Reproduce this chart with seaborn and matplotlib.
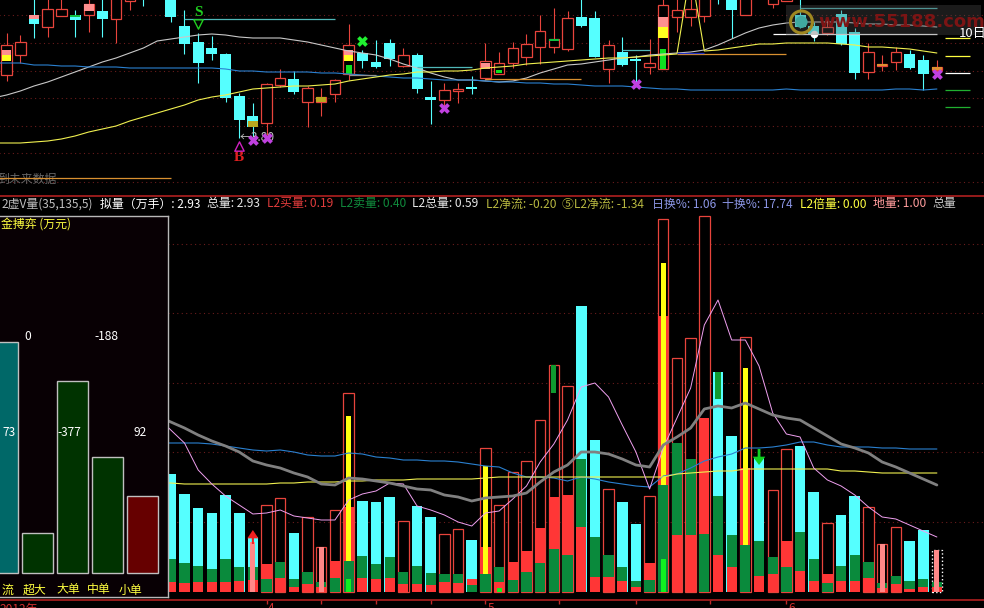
import matplotlib
matplotlib.use("Agg")
import matplotlib.pyplot as plt
from matplotlib.patches import Ellipse, Rectangle
import seaborn as sns

# candles, oldest first. there is no price scale on the picture so values are chart units
body_high = [155, 158, 185, 191, 191, 185, 196, 189, 205, 205, 210, 215,
             205, 174, 158, 152, 146, 104, 84, 116, 122, 121, 112, 103, 120, 155, 147, 138, 157, 145,
             145, 103, 110, 111, 113, 139, 137, 152, 156, 169, 161, 182, 183, 182, 155, 148, 141, 137,
             195, 190, 191, 205, 210, 205, 205, 215, 205, 205, 185, 174, 173, 186, 168, 148, 136, 148,
             146, 140, 133]
body_low = [125, 145, 176, 173, 184, 180, 185, 181, 181, 199, 203, 210,
            183, 156, 137, 146, 102, 80, 73, 77, 115, 108, 98, 98, 106, 126, 139, 133, 141, 134,
            111, 100, 100, 109, 111, 122, 126, 137, 143, 153, 153, 151, 174, 143, 131, 135, 139, 133,
            131, 183, 183, 184, 205, 190, 185, 210, 196, 199, 173, 165, 167, 156, 127, 128, 134, 138,
            132, 126, 130]
wick_high = [167, 165, 205, 205, 205, 190, 205, 205, 205, 205, 210, 215,
             205, 190, 167, 164, 147, 107, 97, 117, 131, 129, 114, 112, 121, 176, 150, 160, 161, 152,
             147, 119, 117, 117, 124, 157, 148, 158, 166, 185, 192, 189, 205, 189, 160, 163, 145, 161,
             205, 205, 205, 205, 210, 205, 205, 215, 205, 205, 205, 178, 182, 190, 172, 157, 145, 153,
             150, 145, 140]
wick_low = [119, 137, 162, 163, 184, 163, 168, 163, 157, 190, 194, 210,
            178, 146, 117, 140, 98, 62, 63, 65, 113, 106, 73, 84, 98, 120, 132, 132, 134, 133,
            107, 76, 94, 97, 106, 120, 126, 132, 135, 136, 147, 149, 173, 143, 117, 134, 118, 126,
            131, 168, 174, 178, 196, 162, 185, 210, 192, 199, 172, 159, 165, 155, 121, 121, 129, 130,
            131, 110, 126]
candle_kind = ("rrcrrcrcrrcc" + "ccccccc" + "rr" + "c" + "rrrr" + "ccc" + "r" + "cc" + "rr" + "c" + "rrrrrrr"
               + "cc" + "r" + "cc" + "rrrrr" + "cc" + "r" + "c" + "rr" + "cc" + "r" + "cc" + "rrr" + "cc" + "r")

# moving averages start one day before the first candle, it is just off the left edge
ma_gray = [102, 105, 109, 114, 118, 123, 128, 133, 138, 142, 147, 152, 159, 161, 163, 165, 166, 165, 163, 162, 162,
           162, 160, 158, 155, 152, 149, 147, 145, 141, 136, 132, 127, 123, 120, 120, 119,
           118, 119, 122, 127, 131, 135, 136, 138, 140, 142, 143, 145, 146, 147, 148, 150, 155, 161, 167, 172,
           175, 177, 178, 178, 178, 178, 177, 176, 176, 175, 175, 174, 173]
ma_yellow = [57, 57, 57, 58, 59, 61, 64, 68, 71, 74, 79, 83, 87, 91, 95, 100, 103, 105, 108, 111, 112,
             113, 114, 114, 115, 116, 119, 121, 123, 125, 126, 128, 128, 129, 129, 130, 132,
             133, 134, 136, 137, 138, 139, 140, 141, 142, 142, 143, 144, 145, 146, 230, 149, 150, 152, 154, 156,
             156, 157, 157, 157, 157, 156, 155, 153, 153, 152, 151, 149, 147]
ma_blue = [137, 137, 137, 135, 135, 134, 134, 133, 133, 133, 132, 132, 132, 132, 132, 132, 132, 131, 129, 129, 128,
           128, 128, 128, 127, 127, 126, 125, 124, 123, 122, 122, 121, 120, 120, 120, 119,
           118, 118, 117, 117, 116, 116, 115, 114, 114, 114, 113, 112, 111, 111, 110, 110, 110, 110, 110, 110,
           110, 111, 110, 110, 110, 110, 110, 110, 110, 111, 111, 110, 111]

# volume pane, only the last 57 days are visible
vol_first_day = 12
volume = [118, 98, 84, 79, 97, 79, 55, 87, 94, 59, 75, 45, 82, 199, 91, 90, 95, 71, 86, 75, 58, 63, 52, 144,
          87, 120, 131, 172, 227, 206, 286, 152, 103, 90, 68, 96, 373, 234, 254, 376, 220, 156, 255, 135,
          102, 143, 146, 100, 69, 77, 96, 85, 48, 65, 51, 62, 42]
seg_low = [10, 9, 10, 10, 10, 11, 12, 13, 14, 5, 8, 5, 14, 31, 14, 13, 14, 8, 8, 7, 10, 9, 7, 18,
           10, 12, 20, 29, 43, 37, 65, 15, 15, 11, 5, 12, 107, 57, 57, 58, 37, 25, 47, 16,
           18, 25, 21, 11, 9, 11, 11, 14, 4, 8, 3, 5, 5]
seg_high = [33, 29, 26, 23, 33, 25, 25, 28, 30, 13, 20, 10, 31, 85, 36, 28, 35, 20, 26, 19, 18, 18, 13, 45,
            25, 30, 41, 64, 95, 97, 133, 55, 37, 25, 11, 29, 276, 149, 133, 174, 96, 57, 124, 51,
            35, 51, 60, 33, 18, 26, 37, 30, 9, 16, 11, 13, 10]
seg_low_kind = ("rrrrrrr" + "g" + "rrrr" + "gg" + "rrrrrrrr" + "gg" + "r" + "ggggg" + "rrrrr" + "gg" + "rr" + "g"
                + "rr" + "g" + "rr" + "g" + "rr" + "g" + "rrrrrrrr")

# same here, one extra day hidden behind the left panel
vma_gray = [176, 170, 164, 157, 151, 146, 140, 131, 127, 124, 119, 115, 108, 107, 114, 113, 111, 109, 106, 103, 102,
            97, 95, 91, 94, 95, 96, 99, 110, 120, 127, 140, 140, 138, 133, 127, 125, 147, 155, 164, 183, 186,
            184, 189, 183, 177, 174, 172, 164, 156, 148, 144, 139, 130, 125, 119, 113, 107]
vma_pink = [175, 162, 149, 122, 108, 96, 87, 78, 79, 82, 76, 74, 72, 72, 92, 98, 101, 109, 108, 86, 82, 77, 70, 66, 79,
            81, 93, 106, 130, 148, 172, 205, 209, 195, 167, 140, 103, 144, 174, 204, 267, 292,
            252, 252, 226, 179, 158, 155, 124, 112, 106, 97, 85, 75, 73, 67, 61, 55]
vma_blue = [149, 149, 149, 149, 148, 146, 144, 142, 141, 142, 140, 137, 136, 136, 139, 138, 135, 134, 132, 132, 131,
            131, 130, 128, 126, 125, 119, 115, 115, 114, 111, 115, 113, 110, 108, 106, 105, 116, 118, 124, 131,
            135, 138, 144, 144, 145, 147, 150, 150, 147, 145, 145, 145, 144, 144, 143, 143, 143]
vma_yellow = [109, 109, 108, 108, 108, 108, 108, 108, 108, 109, 109, 110, 110, 110, 111, 111, 112, 112, 112, 113, 113,
              113, 113, 113, 114, 115, 115, 115, 115, 115, 115, 115, 115, 115, 115, 115, 115, 115, 118, 119, 120,
              121, 121, 123, 123, 123, 123, 123, 123, 123, 121, 121, 120, 119, 119, 119, 119, 119]

# small coloured blocks sitting inside a candle: day, low, high, colour, narrow?
candle_inlays = [(0, 145, 150, "#ff9090", False), (0, 139, 145, "#ffff20", False),
                 (2, 181, 185, "#ff9090", False), (5, 183, 185, "#10c040", False),
                 (6, 189, 196, "#ff9090", False), (18, 73, 79, "#b8a820", False),
                 (23, 98, 103, "#b8a820", False), (25, 145, 150, "#ff9090", False),
                 (25, 139, 145, "#ffff20", False), (25, 126, 135, "#10e020", True),
                 (35, 131, 137, "#ff9090", False), (36, 127, 130, "#10e020", True),
                 (40, 159, 161, "#10c040", False), (48, 173, 183, "#ff9090", False),
                 (48, 162, 173, "#ffff20", False), (48, 131, 151, "#10e020", True),
                 (64, 134, 136, "#e09030", False), (68, 130, 133, "#e09030", False)]
# narrow blocks in the volume pane
vol_yellow = [(13, 31, 176), (23, 18, 126), (36, 107, 329), (42, 47, 224)]
vol_bright = [(13, 0, 13), (24, 0, 4), (36, 0, 33)]
vol_green = [(28, 199, 227), (40, 193, 220)]
vol_pink = [(6, 0, 50), (11, 0, 45), (52, 0, 48), (56, 0, 42)]

# day_from, day_to, level, colour
top_levels = [(13, 24, 181.5, "#50b8b8"), (58, 68, 192, "#50b8b8"), (30, 34, 133, "#50b8b8"),
              (45, 47, 150, "#50b8b8"), (-1, 12, 22, "#d89030"), (35, 42, 121, "#d89030"),
              (49, 57, 146, "#d89030"), (56, 68, 166, "#ffffff"), (25, 27, 125, "#909090"),
              (49, 51, 147, "#2030c0"), (68.6, 70.4, 162, "#ffff40"), (68.6, 70.4, 144, "#ffff40"),
              (68.6, 70.4, 127, "#ffffff"), (68.6, 70.4, 110, "#20b030"), (68.6, 70.4, 93, "#20b030")]
top_grid = [185, 157, 129, 102, 74, 47, 18]
vol_grid = [348, 279, 209, 140, 70]
month_ticks = [19, 23, 27, 31, 35, 40.4, 46, 51.4, 57]
purple_days = [18, 19, 32, 46, 68]
purple_vals = [60, 62, 92, 116, 126]

panel_names = ["主流", "超大", "大单", "中单", "小单"]
panel_heights = [231, 40, 192, 116, 77]
panel_colors = ["#006868", "#003300", "#003300", "#003300", "#660000"]

legend_items = [(2, "2虚V量(35,135,5)", "#c0c0c0"), (100, "拟量（万手）: 2.93", "#ffffff"),
                (207, "总量: 2.93", "#e8e8e8"), (267, "L2买量: 0.19", "#e03c3c"),
                (340, "L2卖量: 0.40", "#108a3c"), (412, "L2总量: 0.59", "#e8e8e8"),
                (486, "L2净流: -0.20", "#b8b840"), (562, "⑤L2净流: -1.34", "#b8b840"),
                (652, "日换%: 1.06", "#8c96e6"), (722, "十换%: 17.74", "#8c96e6"),
                (800, "L2倍量: 0.00", "#ffff40"), (873, "地量: 1.00", "#ff9c9c"),
                (932, "总量", "#c8c8c8")]

RED = "#e8443c"
CYAN = "#55ffff"
VRED = "#ff3636"
VGREEN = "#0a8a3c"
W, H = 984, 608
all_days = list(range(len(body_high)))
ma_days = [-1] + all_days

sns.set_theme(style="dark", rc={"figure.facecolor": "black", "axes.facecolor": "black", "axes.grid": False})
plt.rcParams["font.family"] = ["Noto Sans CJK SC", "DejaVu Sans"]

fig = plt.figure(figsize=(W / 100, H / 100), dpi=100)
ax_top = fig.add_axes([0, 1 - 196 / H, 1, 196 / H])
ax_vol = fig.add_axes([0, 8 / H, 1, 404 / H])
ax_panel = fig.add_axes([0, 1 - 597 / H, 167.5 / W, 381 / H], zorder=5)


def bars(ax, days, heights, color, width=0.78, bottom=None, **kws):
    # order keeps the day positions the same whatever subset gets drawn
    extra = dict(kws)
    if bottom is not None:
        extra["bottom"] = bottom
    sns.barplot(x=days, y=heights, order=all_days, color=color, width=width,
                saturation=1, errorbar=None, ax=ax, **extra)


def text_px(x, y, s, color, size=8.6, **kws):
    fig.text(x / W, 1 - y / H, s, color=color, fontsize=size, va="center", zorder=10, **kws)


# top pane
ax_top.hlines(top_grid, -1, 72, color="#6a1c1c", lw=0.8, ls=(0, (1, 3)), zorder=0.5)
for kind, col in (("r", RED), ("c", CYAN)):
    idx = [d for d in all_days if candle_kind[d] == kind]
    ax_top.vlines(idx, [wick_low[d] for d in idx], [wick_high[d] for d in idx], color=col, lw=0.8, zorder=0.8)
up = [d for d in all_days if candle_kind[d] == "r"]
down = [d for d in all_days if candle_kind[d] == "c"]
bars(ax_top, up, [body_high[d] - body_low[d] for d in up], "black", width=0.76,
     bottom=[body_low[d] for d in up], edgecolor=RED, linewidth=0.9)
bars(ax_top, down, [body_high[d] - body_low[d] for d in down], CYAN, width=0.8,
     bottom=[body_low[d] for d in down], linewidth=0)
for day, lo, hi, col, narrow in candle_inlays:
    bars(ax_top, [day], [hi - lo], col, width=0.42 if narrow else 0.7, bottom=[lo], linewidth=0)

for vals, col in ((ma_gray, "#c8c8c8"), (ma_blue, "#2a80d0"), (ma_yellow, "#f0f050")):
    sns.lineplot(x=ma_days, y=vals, color=col, lw=0.8, estimator=None, ax=ax_top)
for d0, d1, lvl, col in top_levels:
    ax_top.hlines(lvl, d0, d1, color=col, lw=0.9, zorder=3)

sns.scatterplot(x=purple_days, y=purple_vals, marker="X", s=60, color="#c040e0", linewidth=0, ax=ax_top, zorder=4)
sns.scatterplot(x=[26], y=[159], marker="X", s=60, color="#20f030", linewidth=0, ax=ax_top, zorder=4)
sns.scatterplot(x=[59], y=[166], marker="o", s=30, color="#ffffff", linewidth=0, ax=ax_top, zorder=4)
sns.scatterplot(x=[14], y=[176], marker="v", s=45, color="black", edgecolor="#20d020", linewidth=1, ax=ax_top, zorder=4)
sns.scatterplot(x=[17], y=[54], marker="^", s=45, color="black", edgecolor="#d020c0", linewidth=1, ax=ax_top, zorder=4)
ax_top.text(14, 187, "S", color="#20d020", fontsize=11, fontweight="bold", family="Liberation Serif", ha="center", va="center")
ax_top.text(17, 43, "B", color="#e02020", fontsize=11, fontweight="bold", family="Liberation Serif", ha="center", va="center")
ax_top.text(17.05, 63, "←3.80", color="#c0c0c0", fontsize=8.6, va="center", zorder=2)
ax_top.text(-0.7, 21, "到未来数据", color="#686868", fontsize=8.6, va="center", zorder=2)

# volume pane
vol_days = [vol_first_day + k for k in range(len(volume))]
vma_days = [vol_first_day - 1] + vol_days
kinds = candle_kind[vol_first_day:]
ax_vol.hlines(vol_grid, -1, 72, color="#6a1c1c", lw=0.8, ls=(0, (1, 3)), zorder=0.5)
cy = [k for k in range(len(volume)) if kinds[k] == "c"]
rd = [k for k in range(len(volume)) if kinds[k] == "r" and k != 56]
bars(ax_vol, [vol_days[k] for k in cy], [volume[k] for k in cy], CYAN, linewidth=0)
bars(ax_vol, [vol_days[k] for k in rd], [volume[k] for k in rd], "black", width=0.76, edgecolor=RED, linewidth=0.9)
bars(ax_vol, [vol_days[56]], [volume[56]], "black", width=0.76, edgecolor="white", linewidth=1, linestyle=":")

for kind, low_col, high_col in (("r", VRED, VGREEN), ("g", VGREEN, VRED)):
    idx = [k for k in range(len(volume)) if seg_low_kind[k] == kind]
    bars(ax_vol, [vol_days[k] for k in idx], [seg_high[k] for k in idx], high_col, width=0.75, linewidth=0)
    bars(ax_vol, [vol_days[k] for k in idx], [seg_low[k] for k in idx], low_col, width=0.75, linewidth=0)

for items, col in ((vol_yellow, "#ffff10"), (vol_bright, "#10f020"), (vol_green, "#109a30"), (vol_pink, "#ff8888")):
    for k, lo, hi in items:
        bars(ax_vol, [vol_first_day + k], [hi - lo], col, width=0.38, bottom=[lo], linewidth=0)

for vals, col, lw in ((vma_blue, "#2a80d0", 0.8), (vma_yellow, "#f0f050", 0.8), (vma_pink, "#f0a0f0", 0.7),
                      (vma_gray, "#808080", 2.0)):
    sns.lineplot(x=vma_days, y=vals, color=col, lw=lw, estimator=None, ax=ax_vol)

ax_vol.annotate("", xy=(vol_first_day + 6, 62), xytext=(vol_first_day + 6, 48),
                arrowprops=dict(color="#f02020", width=1.5, headwidth=8, headlength=6, lw=0))
ax_vol.annotate("", xy=(vol_first_day + 43, 127), xytext=(vol_first_day + 43, 143),
                arrowprops=dict(color="#10d020", width=2, headwidth=9, headlength=6, lw=0))

# left panel
sns.barplot(x=panel_names, y=panel_heights, hue=panel_names, palette=panel_colors, order=panel_names, legend=False,
            width=0.886, saturation=1, edgecolor="#c0c0c0", linewidth=1, ax=ax_panel, dodge=False)
ax_panel.set_xlim(-2.5 / 35, 165 / 35)
ax_panel.set_ylim(-24, 357)
ax_panel.set_facecolor("#080004")
ax_panel.set(xticks=[], yticks=[], xlabel="", ylabel="")
for side, spine in ax_panel.spines.items():
    spine.set_visible(side != "left")
    spine.set_color("#b8b8b8")
    spine.set_linewidth(1)

text_px(1, 224, "金搏弈 (万元)", "#ffff40")
for x, s in ((2, "流"), (23, "超大"), (56, "大单"), (87, "中单"), (119, "小单")):
    text_px(x, 590, s, "#ffff40")
for x, y, s in ((24, 337, "0"), (94, 337, "-188"), (57, 433, "-377"), (2, 433, "73"), (134, 433, "92")):
    text_px(x, y, s, "#ffffff")

for x, s, col in legend_items:
    text_px(x, 204, s, col)
text_px(959, 33, "10日", "#ffffff", size=9.5)
text_px(0, 609, "2012年", "#d03030")
for x, s in ((268, "4"), (488, "5"), (788, "6")):
    text_px(x, 609, s, "#d03030")

# axes limits, day 0 sits at x=6.6px and one day is 13.68px
for ax in (ax_top, ax_vol):
    ax.set_xlim(-6.64 / 13.68, (W - 6.64) / 13.68)
    ax.set(xlabel="", ylabel="", yticks=[])
ax_top.set_ylim(4, 200)
ax_top.set_xticks([])
ax_vol.set_ylim(-8, 396)
ax_vol.set_xticks(month_ticks, [""] * len(month_ticks))
ax_vol.tick_params(axis="x", bottom=True, length=3, width=1, color="#c02828")
for ax in (ax_top, ax_vol):
    for side, spine in ax.spines.items():
        spine.set_visible(side in ("top", "bottom") and ax is ax_vol)
        spine.set_color("#b02020")
        spine.set_linewidth(1.2)

# watermark over the top right corner, axes are stretched so the logo is an ellipse in data units
ax_top.add_patch(Rectangle((57.0, 165), 14.2, 30, color="#505050", alpha=0.35, lw=0, zorder=6))
ax_top.add_patch(Ellipse((58.1, 178), 1.6, 22, fill=False, ec="#a08820", lw=2.2, zorder=7))
ax_top.add_patch(Ellipse((58.1, 178), 0.9, 12, color="#40a8a0", lw=0, zorder=7))
ax_top.text(59.3, 178, "www.55188.com", color="#7c1414", fontsize=13, fontweight="bold", va="center", zorder=7,
            family="DejaVu Sans")

fig.savefig("out.png", dpi=100, facecolor="black")
